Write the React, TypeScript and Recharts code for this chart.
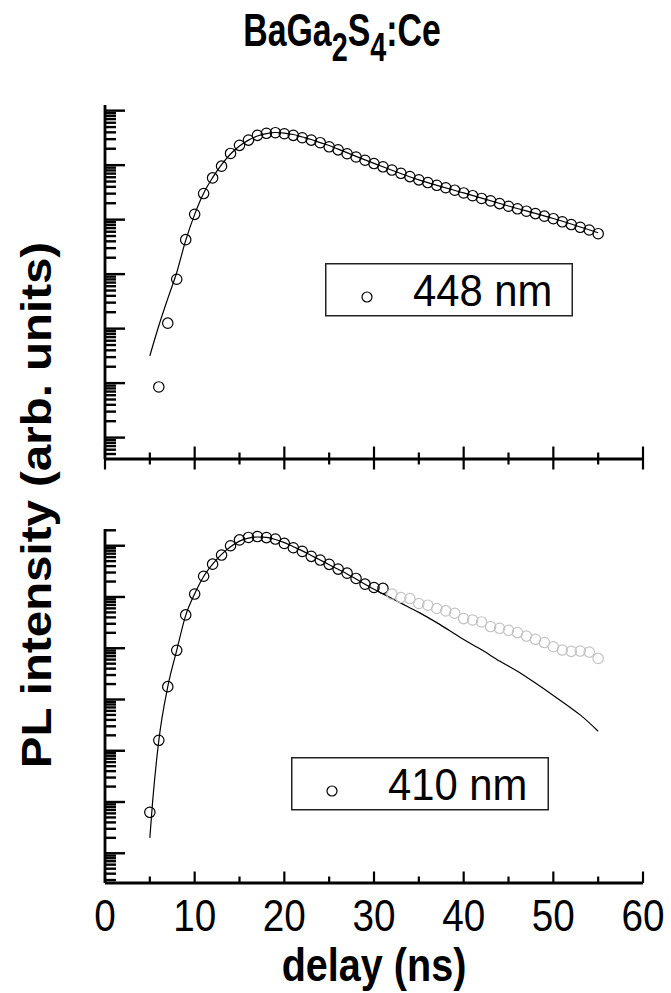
import * as React from 'react';
import { ComposedChart, Legend, Line, Scatter, XAxis, YAxis } from 'recharts';

const FONT = '"Liberation Sans", Arial, Helvetica, sans-serif';

// delay axis (ns)
const DELAY_TICKS = [0, 5, 10, 15, 20, 25, 30, 35, 40, 45, 50, 55, 60];
const DELAY_LABELS = ['0', '10', '20', '30', '40', '50', '60'];

// 448 nm emission: measured points and fitted curve
const LABEL_448 = '448 nm';
const delay448 = [
  6, 7, 8, 9, 10, 11, 12, 13, 14, 15, 16, 17, 18, 19, 20, 21, 22, 23, 24, 25,
  26, 27, 28, 29, 30, 31, 32, 33, 34, 35, 36, 37, 38, 39, 40, 41, 42, 43, 44,
  45, 46, 47, 48, 49, 50, 51, 52, 53, 54, 55,
];
const pl448 = [
  85, 1260, 8050, 42900, 125000, 301000, 583000, 959000, 1640000, 2310000,
  2880000, 3520000, 3840000, 3940000, 3770000, 3520000, 3180000, 2880000,
  2580000, 2170000, 1910000, 1620000, 1410000, 1230000, 1070000, 933000,
  813000, 708000, 617000, 537000, 479000, 427000, 385000, 347000, 309000,
  275000, 245000, 221000, 197000, 176000, 158000, 143000, 129000, 116000,
  104000, 91200, 81300, 72400, 64600, 55200,
];
const fitDelay448 = [
  5, 6, 7, 8, 9, 10, 11, 12, 13, 14, 15, 16, 17, 18, 19, 20, 21, 22, 23, 24,
  25, 26, 28, 30, 35, 40, 45, 50, 55,
];
const fit448 = [
  317, 1130, 3560, 10700, 41600, 125000, 305000, 589000, 1020000, 1600000,
  2240000, 2880000, 3420000, 3800000, 3970000, 3880000, 3650000, 3280000,
  2950000, 2590000, 2290000, 1970000, 1450000, 1080000, 537000, 309000,
  178000, 105000, 57500,
];

// 410 nm emission: points used for the fit, later points, fitted curve
const LABEL_410 = '410 nm';
const delay410 = [
  5, 6, 7, 8, 9, 10, 11, 12, 13, 14, 15, 16, 17, 18, 19, 20, 21, 22, 23, 24,
  25, 26, 27, 28, 29, 30, 31,
];
const pl410 = [
  63, 1600, 17800, 91200, 447000, 1140000, 2540000, 4370000, 6580000,
  10000000, 13000000, 14500000, 15100000, 14400000, 13500000, 11100000,
  9140000, 7760000, 6210000, 5250000, 4330000, 3500000, 2920000, 2300000,
  1780000, 1530000, 1470000,
];
const delay410Tail = [
  32, 33, 34, 35, 36, 37, 38, 39, 40, 41, 42, 43, 44, 45, 46, 47, 48, 49, 50,
  51, 52, 53, 54, 55,
];
const pl410Tail = [
  1140000, 977000, 933000, 746000, 692000, 596000, 535000, 482000, 379000,
  356000, 326000, 265000, 245000, 224000, 202000, 173000, 149000, 129000,
  107000, 92300, 86900, 88100, 84300, 63400,
];
const fitDelay410 = [
  5, 5.3, 6, 7, 8, 9, 10, 11, 12, 13, 14, 15, 16, 17, 18, 19, 20, 21, 22, 23,
  24, 25, 26, 27, 28, 29, 30, 31, 33, 35, 37, 40, 42, 44, 46, 48, 50, 52, 53,
  55,
];
const fit410 = [
  20, 96, 1580, 17800, 91200, 437000, 1150000, 2510000, 4370000, 6760000,
  9550000, 12300000, 14100000, 14800000, 14500000, 13200000, 11500000,
  9550000, 7940000, 6460000, 5250000, 4270000, 3470000, 2820000, 2240000,
  1780000, 1410000, 1150000, 759000, 501000, 316000, 148000, 93300, 56200,
  35500, 20900, 12000, 6760, 5010, 2400,
];

const TOP_DOMAIN: [number, number] = [4.05, 1.27e7];
const BOTTOM_DOMAIN: [number, number] = [2.63, 2.12e7];

const toPoints = (xs: number[], ys: number[]) => xs.map((x, i) => ({ x, y: ys[i] }));

// 1..9 x 10^k inside the domain, for an unlabelled log axis
function logTicks([lo, hi]: [number, number]) {
  const out: number[] = [];
  for (let k = Math.floor(Math.log10(lo)); k <= Math.ceil(Math.log10(hi)); k++) {
    for (let m = 1; m <= 9; m++) {
      const v = m * Math.pow(10, k);
      if (v >= lo && v <= hi) out.push(v);
    }
  }
  return out;
}

const isDecade = (v: number) => Math.abs(Math.log10(v) - Math.round(Math.log10(v))) < 1e-9;

// ticks point inwards from the axis line at x = 105
function LogTick(props: any) {
  const { y, payload } = props;
  const x = 105;
  const len = isDecade(payload.value) ? 20 : 11;
  return <line x1={x} x2={x + len} y1={y} y2={y} stroke="#000" strokeWidth={2.4} />;
}

function CrossTick(props: any) {
  const { x, y, payload } = props;
  const major = payload.value % 10 === 0;
  return (
    <line
      x1={x}
      x2={x}
      y1={y - (major ? 12.5 : 6.5)}
      y2={y + (major ? 10.5 : 5.5)}
      stroke="#000"
      strokeWidth={2.2}
    />
  );
}

function LabelTick(props: any) {
  const { x, y, payload } = props;
  const major = payload.value % 10 === 0;
  const label = DELAY_LABELS.find((t) => Number(t) === payload.value);
  return (
    <g>
      <line x1={x} x2={x} y1={y - (major ? 11.5 : 6.5)} y2={y} stroke="#000" strokeWidth={2.2} />
      {label !== undefined && (
        <text
          transform={`translate(${x} ${y + 48}) scale(0.86 1)`}
          textAnchor="middle"
          fontSize={45}
          fontFamily={FONT}
          fill="#000"
        >
          {label}
        </text>
      )}
    </g>
  );
}

function BoxLegend({ label, width, markerX, textX }: { label: string; width: number; markerX: number; textX: number }) {
  return (
    <svg width={width} height={54} style={{ display: 'block' }}>
      <rect x={0.75} y={0.75} width={width - 1.5} height={52} fill="#fff" stroke="#222" strokeWidth={1.5} />
      <circle cx={markerX} cy={34} r={5} fill="none" stroke="#000" strokeWidth={1.2} />
      <text
        transform={`translate(${textX} 43) scale(0.95 1)`}
        fontSize={44}
        fontFamily={FONT}
        fill="#000"
      >
        {label}
      </text>
    </svg>
  );
}

const openCircle = (stroke: string) => (p: any) => (
  <circle cx={p.cx} cy={p.cy} r={5.2} fill="none" stroke={stroke} strokeWidth={1.2} />
);

const axisLine = { stroke: '#000', strokeWidth: 2.8 };

export default function App() {
  return (
    <div style={{ position: 'absolute', left: 0, top: 0, width: 671, height: 993, background: '#fff' }}>
      <div style={{ position: 'absolute', left: 0, top: 0 }}>
        <ComposedChart width={671} height={470} margin={{ top: 105, right: 28, bottom: 0, left: 45 }}>
          <XAxis
            type="number"
            dataKey="x"
            domain={[0, 60]}
            ticks={DELAY_TICKS}
            interval={0}
            allowDataOverflow
            height={11}
            tickSize={0}
            tickMargin={0}
            tickLine={false}
            axisLine={axisLine}
            tick={CrossTick}
          />
          <YAxis
            type="number"
            dataKey="y"
            scale="log"
            domain={TOP_DOMAIN}
            ticks={logTicks(TOP_DOMAIN)}
            interval={0}
            allowDataOverflow
            width={60}
            tickLine={false}
            axisLine={axisLine}
            tick={LogTick}
          />
          <Line
            data={toPoints(fitDelay448, fit448)}
            dataKey="y"
            type="monotone"
            stroke="#000"
            strokeWidth={1.2}
            dot={false}
            legendType="none"
            isAnimationActive={false}
          />
          <Scatter
            name={LABEL_448}
            data={toPoints(delay448, pl448)}
            dataKey="y"
            shape={openCircle('#000')}
            isAnimationActive={false}
          />
          <Legend
            layout="horizontal"
            verticalAlign="middle"
            align="center"
            wrapperStyle={{ left: 325, top: 263, width: 248 }}
            content={() => <BoxLegend label={LABEL_448} width={248} markerX={42} textX={88} />}
          />
        </ComposedChart>
      </div>

      <div style={{ position: 'absolute', left: 0, top: 470 }}>
        <ComposedChart width={671} height={523} margin={{ top: 59, right: 28, bottom: 0, left: 45 }}>
          <XAxis
            type="number"
            dataKey="x"
            domain={[0, 60]}
            ticks={DELAY_TICKS}
            interval={0}
            allowDataOverflow
            height={110}
            tickSize={0}
            tickMargin={0}
            tickLine={false}
            axisLine={axisLine}
            tick={LabelTick}
          />
          <YAxis
            type="number"
            dataKey="y"
            scale="log"
            domain={BOTTOM_DOMAIN}
            ticks={logTicks(BOTTOM_DOMAIN)}
            interval={0}
            allowDataOverflow
            width={60}
            tickLine={false}
            axisLine={axisLine}
            tick={LogTick}
          />
          <Line
            data={toPoints(fitDelay410, fit410)}
            dataKey="y"
            type="monotone"
            stroke="#000"
            strokeWidth={1.2}
            dot={false}
            legendType="none"
            isAnimationActive={false}
          />
          <Scatter
            name={LABEL_410}
            data={toPoints(delay410, pl410)}
            dataKey="y"
            shape={openCircle('#000')}
            isAnimationActive={false}
          />
          <Scatter
            data={toPoints(delay410Tail, pl410Tail)}
            dataKey="y"
            shape={openCircle('#c4c4c4')}
            legendType="none"
            isAnimationActive={false}
          />
          <Legend
            layout="horizontal"
            verticalAlign="middle"
            align="center"
            wrapperStyle={{ left: 291, top: 287, width: 258 }}
            content={() => <BoxLegend label={LABEL_410} width={258} markerX={41} textX={97} />}
          />
        </ComposedChart>
      </div>

      <svg
        width={671}
        height={993}
        style={{ position: 'absolute', left: 0, top: 0, pointerEvents: 'none' }}
        fontFamily={FONT}
        fontWeight="bold"
        fill="#000"
      >
        <text transform="translate(342 46) scale(0.72 1)" textAnchor="middle" fontSize={47}>
          BaGa<tspan fontSize={40} dy={15}>2</tspan>
          <tspan dy={-15}>S</tspan>
          <tspan fontSize={40} dy={15}>4</tspan>
          <tspan dy={-15}>:Ce</tspan>
        </text>
        <text transform="translate(51 505) rotate(-90) scale(1.13 1)" textAnchor="middle" fontSize={42}>
          PL intensity (arb. units)
        </text>
        <text transform="translate(374 981) scale(0.86 1)" textAnchor="middle" fontSize={46}>
          delay (ns)
        </text>
      </svg>
    </div>
  );
}
